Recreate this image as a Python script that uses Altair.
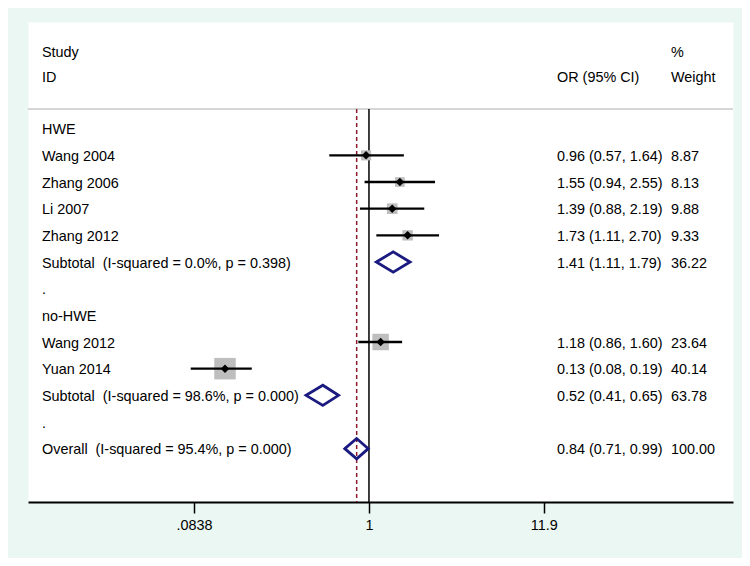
import altair as alt
import pandas as pd

# ---------------- data ----------------
left_labels = ["HWE", "Wang 2004", "Zhang 2006", "Li 2007", "Zhang 2012",
               "Subtotal\u00a0 (I-squared = 0.0%, p = 0.398)", ".",
               "no-HWE", "Wang 2012", "Yuan 2014",
               "Subtotal\u00a0 (I-squared = 98.6%, p = 0.000)", ".",
               "Overall\u00a0 (I-squared = 95.4%, p = 0.000)"]
left_rows = [-1, 0, 1, 2, 3, 4, 5, 6, 7, 8, 9, 10, 11]

study_names = ["Wang 2004", "Zhang 2006", "Li 2007", "Zhang 2012", "Wang 2012", "Yuan 2014"]
study_or = [0.96, 1.55, 1.39, 1.73, 1.18, 0.13]
study_lo = [0.57, 0.94, 0.88, 1.11, 0.86, 0.08]
study_hi = [1.64, 2.55, 2.19, 2.70, 1.60, 0.19]
study_wt = [8.87, 8.13, 9.88, 9.33, 23.64, 40.14]
study_rows = [0, 1, 2, 3, 7, 8]

pool_names = ["Subtotal HWE", "Subtotal no-HWE", "Overall"]
pool_or = [1.41, 0.52, 0.84]
pool_lo = [1.11, 0.41, 0.71]
pool_hi = [1.79, 0.65, 0.99]
pool_wt = [36.22, 63.78, 100.00]
pool_rows = [4, 9, 11]

head_left = ["Study", "ID"]
head_left_rows = [-3.9, -2.95]
head_or = ["OR (95% CI)"]
head_or_rows = [-2.95]
head_wt = ["%", "Weight"]
head_wt_rows = [-3.9, -2.95]

tick_values = [0.0838, 1, 11.9]
tick_labels = [".0838", "1", "11.9"]
null_value = [1]
overall_value = [0.84]

# ---------------- style ----------------
FONT = "Liberation Sans"
FS = 14.4
W, H = 705, 480
DIAM_H = 0.38  # half height of pooled diamonds, in row units
NAVY = "#1A1A80"

xscale = alt.Scale(type="log", domain=[0.00797, 174], nice=False)
yscale = alt.Scale(domain=[-5, 13], reverse=True, nice=False, zero=False)

label_expr = " : ".join(
    f"abs(datum.value - {v}) < 1e-6 ? '{l}'" for v, l in zip(tick_values[:-1], tick_labels[:-1])
) + f" : '{tick_labels[-1]}'"

xaxis = alt.Axis(values=tick_values, labelExpr=label_expr, grid=False, title=None,
                 domainColor="black", domainWidth=2, tickColor="black", tickWidth=1.5,
                 tickSize=11, labelFontSize=FS, labelFont=FONT, labelColor="black",
                 labelPadding=5, labelFlush=False, labelOverlap=False)


def X(field):
    return alt.X(field, type="quantitative", scale=xscale, axis=xaxis)


def Y(field):
    return alt.Y(field, type="quantitative", scale=yscale, axis=None)


# ---------------- tables ----------------
studies = pd.DataFrame(dict(name=study_names, est=study_or, lo=study_lo, hi=study_hi,
                            wt=study_wt, row=study_rows))

diam = []
for n, e, lo, hi, r in zip(pool_names, pool_or, pool_lo, pool_hi, pool_rows):
    pts = [(lo, r), (e, r - DIAM_H), (hi, r), (e, r + DIAM_H), (lo, r), (e, r - DIAM_H)]
    for k, (xv, yv) in enumerate(pts):
        diam.append(dict(name=n, ord=k, x=xv, y=yv))
diam = pd.DataFrame(diam)

left_df = pd.DataFrame(dict(text=left_labels, row=left_rows))
or_text = [f"{e:.2f} ({l:.2f}, {h:.2f})" for e, l, h in zip(study_or + pool_or,
                                                             study_lo + pool_lo,
                                                             study_hi + pool_hi)]
wt_text = [f"{w:.2f}" for w in study_wt + pool_wt]
right_df = pd.DataFrame(dict(ortext=or_text, wttext=wt_text, row=study_rows + pool_rows))
hl_df = pd.DataFrame(dict(text=head_left, row=head_left_rows))
ho_df = pd.DataFrame(dict(text=head_or, row=head_or_rows))
hw_df = pd.DataFrame(dict(text=head_wt, row=head_wt_rows))

# ---------------- layers ----------------
header_line = alt.Chart(pd.DataFrame({"a": [0]})).mark_rule(
    color="#C8C8C8", strokeWidth=1.5).encode(
    x=alt.value(0), x2=alt.value(W), y=alt.value(87))

null_line = alt.Chart(pd.DataFrame({"v": null_value})).mark_rule(
    color="black", strokeWidth=1.5).encode(x=X("v"), y=alt.value(87), y2=alt.value(H))

overall_line = alt.Chart(pd.DataFrame({"v": overall_value})).mark_rule(
    color="#8B1A2B", strokeWidth=1.5, strokeDash=[4, 3]).encode(
    x=X("v"), y=alt.value(87), y2=alt.value(H))

boxes = alt.Chart(studies).mark_square(color="#BEBEBE", opacity=1, filled=True).encode(
    x=X("est"), y=Y("row"),
    size=alt.Size("wt:Q", scale=alt.Scale(domain=[0, 40.14], range=[0, 462]), legend=None))

ci = alt.Chart(studies).mark_rule(color="black", strokeWidth=2.4).encode(
    x=X("lo"), x2="hi", y=Y("row"))

pts = alt.Chart(studies).mark_point(shape="diamond", filled=True, color="black",
                                    opacity=1, size=72).encode(x=X("est"), y=Y("row"))

diamonds = alt.Chart(diam).mark_line(color=NAVY, strokeWidth=2.8, strokeJoin="miter").encode(
    x=X("x"), y=Y("y"), detail="name:N", order="ord:Q")

txt = dict(align="left", baseline="middle", font=FONT, fontSize=FS, color="black", dy=1.5)

left_t = alt.Chart(left_df).mark_text(**txt).encode(x=alt.value(14), y=Y("row"), text="text:N")
or_t = alt.Chart(right_df).mark_text(**txt).encode(x=alt.value(529), y=Y("row"), text="ortext:N")
wt_t = alt.Chart(right_df).mark_text(**txt).encode(x=alt.value(643), y=Y("row"), text="wttext:N")
hl_t = alt.Chart(hl_df).mark_text(**txt).encode(x=alt.value(14), y=Y("row"), text="text:N")
ho_t = alt.Chart(ho_df).mark_text(**txt).encode(x=alt.value(529), y=Y("row"), text="text:N")
hw_t = alt.Chart(hw_df).mark_text(**txt).encode(x=alt.value(643), y=Y("row"), text="text:N")

chart = alt.layer(
    header_line, null_line, overall_line, boxes, ci, pts, diamonds,
    left_t, or_t, wt_t, hl_t, ho_t, hw_t
).properties(
    width=W, height=H, autosize="none",
    padding={"left": 20, "top": 14, "right": 9, "bottom": 56},
    background="#EAF7F2"
).configure_view(fill="white", strokeOpacity=0)

chart.save("out.html", embed_options={"renderer": "svg", "actions": False})
